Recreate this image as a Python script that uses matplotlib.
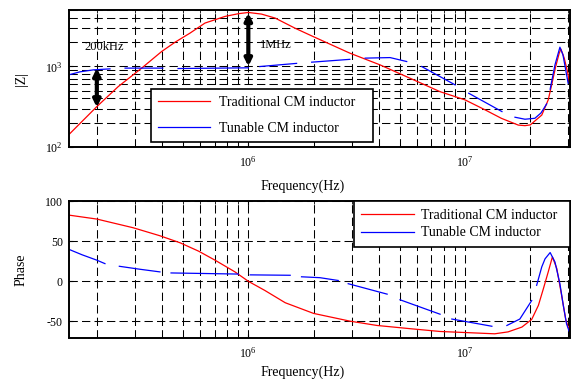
import numpy as np
import matplotlib
matplotlib.use('Agg')
import matplotlib.pyplot as plt
from matplotlib.ticker import LogLocator, FixedLocator, NullFormatter, LogFormatterSciNotation

plt.rcParams['font.family'] = ['Liberation Serif', 'DejaVu Serif']
plt.rcParams['mathtext.fontset'] = 'custom'
plt.rcParams['mathtext.rm'] = 'Liberation Serif'
plt.rcParams['lines.scale_dashes'] = False
plt.rcParams['axes.unicode_minus'] = False

nan = np.nan

# ---------------- data ----------------
labels = ['Traditional CM inductor', 'Tunable CM inductor']

f_trad_mag = [1.48e5, 2.0e5, 2.51e5, 3.22e5, 3.98e5, 4.6e5, 5.38e5, 6.31e5, 7.8e5, 9.0e5, 1.0e6,
              1.15e6, 1.33e6, 1.64e6, 2.0e6, 2.94e6, 4.05e6, 5.57e6, 7.66e6, 1.0e7, 1.24e7,
              1.47e7, 1.76e7, 1.89e7, 2.0e7, 2.26e7, 2.42e7, 2.51e7, 2.62e7, 2.72e7, 2.77e7,
              2.87e7, 2.98e7, 3.05e7]
z_trad = [141, 317, 561, 951, 1527, 2000, 2583, 3444, 4160, 4500, 4660,
          4450, 3970, 2980, 2330, 1459, 1044, 713, 486, 384, 288,
          227, 187, 184, 188, 249, 384, 589, 995, 1459, 1637,
          1260, 824, 589]

f_tun_mag = [1.48e5, 1.67e5, 1.93e5, 2.30e5, nan, 2.70e5, 4.03e5, nan, 4.74e5, 1.0e6, nan,
             1.13e6, 1.67e6, nan, 1.96e6, 2.94e6, nan, 3.46e6, 4.51e6, 5.38e6, nan,
             6.31e6, 9.0e6, nan, 1.04e7, 1.48e7, nan, 1.70e7, 1.89e7, 2.10e7, 2.24e7, 2.38e7, nan,
             2.47e7, 2.60e7, 2.74e7, 2.83e7, 2.99e7]
z_tun = [783, 855, 905, 931, nan, 951, 951, nan, 940, 959, nan,
         995, 1089, nan, 1127, 1222, nan, 1265, 1285, 1148, nan,
         995, 589, nan, 464, 275, nan, 234, 221, 227, 264, 342, nan,
         521, 1044, 1730, 1390, 618]

f_trad_ph = [1.48e5, 2.0e5, 2.94e5, 3.91e5, 4.84e5, 5.9e5, 7.02e5, 8.68e5, 1.0e6, 1.19e6, 1.48e6,
             2.0e6, 2.94e6, 3.92e6, 5.57e6, 7.67e6, 1.04e7, 1.37e7, 1.58e7, 1.83e7, 2.03e7,
             2.18e7, 2.30e7, 2.42e7, 2.53e7, 2.65e7, 2.79e7, 2.92e7, 3.05e7]
p_trad = [82.5, 77.5, 66.7, 56.7, 48, 37.5, 26.3, 11.7, 0, -11.3, -26.7,
          -40, -49.6, -55, -59, -62.5, -64, -65.4, -63, -57, -47.5,
          -30, -9, 11.7, 30.4, 16, -17.5, -48.7, -63]

f_tun_ph = [1.48e5, 1.71e5, 2.0e5, 2.18e5, nan, 2.54e5, 3.16e5, 3.91e5, nan,
            4.40e5, 5.98e5, 9.0e5, nan, 1.02e6, 1.56e6, nan, 1.76e6, 2.14e6, 2.60e6, nan,
            2.89e6, 4.37e6, nan, 5.01e6, 6.2e6, 7.67e6, nan, 8.69e6, 1.33e7, nan,
            1.56e7, 1.79e7, 2.03e7, nan,
            2.14e7, 2.26e7, 2.34e7, 2.47e7, 2.60e7, 2.74e7, 2.84e7, 2.94e7, 3.02e7]
p_tun = [40, 33, 26.3, 22, nan, 18.7, 15, 11.7, nan,
         10.4, 9.8, 9, nan, 8, 7.5, nan, 5.6, 4.5, 1, nan,
         -3, -16, nan, -23, -32, -41, nan, -47, -56, nan,
         -55, -47, -24, nan,
         -5, 18, 28, 35.8, 24, -3, -30, -53, -62]

arrow_f = [2e5, 1e6]
arrow_lo = [310, 1000]
arrow_hi = [950, 4600]
arrow_txt = ['200kHz', '1MHz']

mag_yticks = [1e2, 1e3]
ph_yticks = [-50, 0, 50, 100]

# ---------------- figure ----------------
W, H = 573, 379
fig = plt.figure(figsize=(W / 100, H / 100), dpi=100)

def rect(x0, x1, ytop, ybot):
    return [x0 / W, 1 - ybot / H, (x1 - x0) / W, (ybot - ytop) / H]

ax1 = fig.add_axes(rect(68.5, 570, 10, 147))
ax2 = fig.add_axes(rect(68.5, 570, 201, 337.5))

grid_kw = dict(color='k', linestyle=(0, (6, 3)), linewidth=0.75)

for ax in (ax1, ax2):
    ax.set_xscale('log')
    ax.set_xlim(1.48e5, 3.05e7)
    ax.xaxis.set_major_locator(LogLocator(base=10))
    ax.xaxis.set_minor_locator(LogLocator(base=10, subs=np.arange(2, 10)))
    ax.xaxis.set_major_formatter(LogFormatterSciNotation())
    ax.xaxis.set_minor_formatter(NullFormatter())
    ax.xaxis.grid(True, which='both', **grid_kw)
    for s in ax.spines.values():
        s.set_linewidth(1.4)
    ax.tick_params(which='both', direction='in', top=True, right=True, labelsize=8.6)
    ax.tick_params(which='major', length=3)
    ax.tick_params(which='minor', length=2)
    ax.tick_params(axis='x', pad=6)
    ax.tick_params(axis='y', pad=4)
    ax.set_axisbelow(True)

# top: magnitude
ax1.set_yscale('log')
ax1.set_ylim(100, 5000)
ax1.yaxis.set_major_locator(FixedLocator(mag_yticks))
ax1.yaxis.set_minor_locator(LogLocator(base=10, subs=np.arange(2, 10)))
ax1.yaxis.set_major_formatter(LogFormatterSciNotation())
ax1.yaxis.set_minor_formatter(NullFormatter())
ax1.yaxis.grid(True, which='both', **grid_kw)

l1, = ax1.plot(f_trad_mag, z_trad, color='red', lw=0.9)
l2, = ax1.plot(f_tun_mag, z_tun, color='blue', lw=0.9)

for f, lo, hi in zip(arrow_f, arrow_lo, arrow_hi):
    ax1.annotate('', xy=(f, lo), xytext=(f, hi),
                 arrowprops=dict(arrowstyle='<|-|>,head_length=0.4,head_width=0.2',
                                 lw=3.0, color='black', shrinkA=0, shrinkB=0,
                                 mutation_scale=10))
ax1.text(0.031, 0.73, arrow_txt[0], transform=ax1.transAxes, fontsize=9, va='center', ha='left')
ax1.text(0.382, 0.745, arrow_txt[1], transform=ax1.transAxes, fontsize=9, va='center', ha='left')

ax1.set_ylabel('|Z|', fontsize=10)
ax1.yaxis.set_label_coords(-0.081, 0.5)
ax1.set_xlabel('Frequency(Hz)', fontsize=10)
ax1.xaxis.set_label_coords(0.466, -0.235)

leg1 = ax1.legend([l1, l2], labels, loc='lower left', bbox_to_anchor=(0.164, 0.039, 0.443, 0.4),
                  mode='expand', fontsize=10, frameon=True, fancybox=False, framealpha=1,
                  edgecolor='black', handlelength=3.8, handletextpad=0.65, labelspacing=0.95,
                  borderpad=0.5, borderaxespad=0)
leg1.get_frame().set_linewidth(1.2)

# bottom: phase
ax2.set_ylim(-70, 100)
ax2.yaxis.set_major_locator(FixedLocator(ph_yticks))
ax2.yaxis.grid(True, which='major', **grid_kw)

m1, = ax2.plot(f_trad_ph, p_trad, color='red', lw=0.9)
m2, = ax2.plot(f_tun_ph, p_tun, color='blue', lw=0.9)

ax2.set_ylabel('Phase', fontsize=10)
ax2.yaxis.set_label_coords(-0.082, 0.5)
ax2.set_xlabel('Frequency(Hz)', fontsize=10)
ax2.xaxis.set_label_coords(0.466, -0.205)

leg2 = ax2.legend([m1, m2], labels, loc='upper left', bbox_to_anchor=(0.569, 0.0, 0.431, 1.0),
                  mode='expand', fontsize=10, frameon=True, fancybox=False, framealpha=1,
                  edgecolor='black', handlelength=3.8, handletextpad=0.5, labelspacing=0.35,
                  borderpad=0.55, borderaxespad=0)
leg2.get_frame().set_linewidth(1.2)

fig.savefig('out.png', dpi=100)
